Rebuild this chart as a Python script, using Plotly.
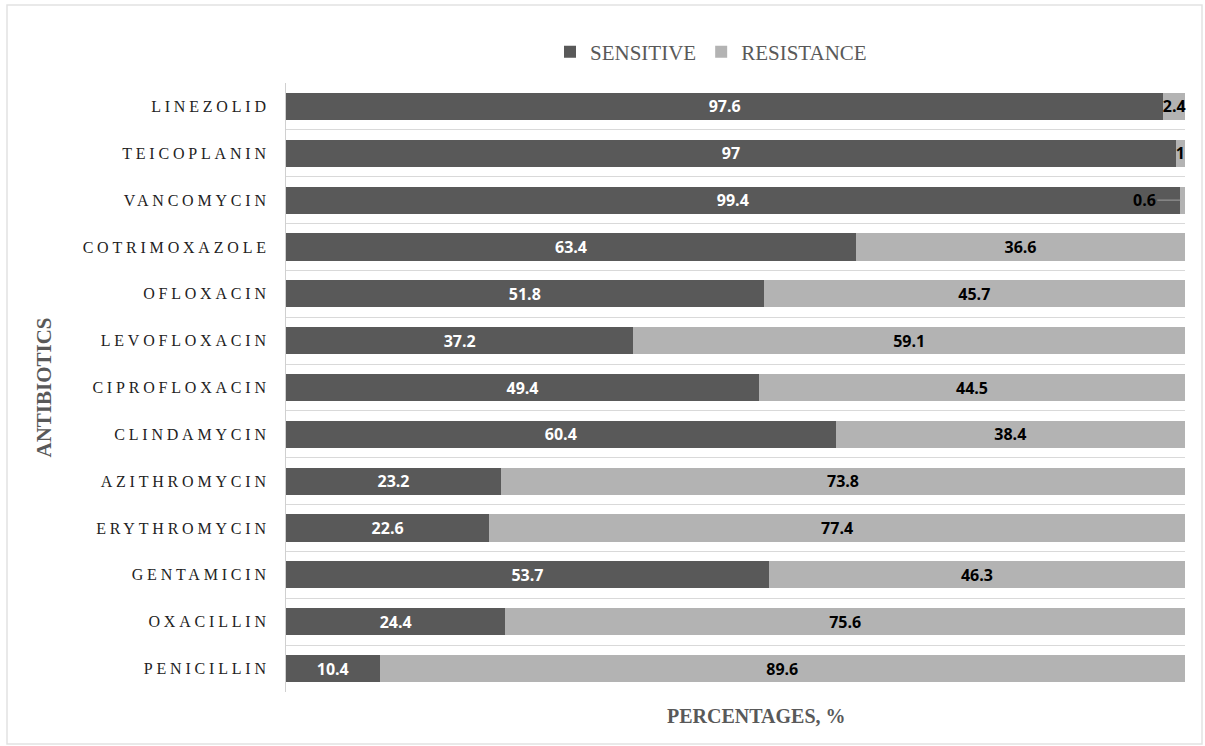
import plotly.graph_objects as go

antibiotics = ["PENICILLIN", "OXACILLIN", "GENTAMICIN", "ERYTHROMYCIN", "AZITHROMYCIN",
               "CLINDAMYCIN", "CIPROFLOXACIN", "LEVOFLOXACIN", "OFLOXACIN",
               "COTRIMOXAZOLE", "VANCOMYCIN", "TEICOPLANIN", "LINEZOLID"]
sensitive = [10.4, 24.4, 53.7, 22.6, 23.2, 60.4, 49.4, 37.2, 51.8, 63.4, 99.4, 97, 97.6]
resistance = [89.6, 75.6, 46.3, 77.4, 73.8, 38.4, 44.5, 59.1, 45.7, 36.6, 0.6, 1, 2.4]

DARK = "#595959"
LIGHT = "#b3b3b3"
LABEL_FONT = "Open Sans, Liberation Sans, sans-serif"
SERIF = "Liberation Serif"

# labels too small for their segment get a leader line
res_text = [("" if v < 1 else str(v)) for v in resistance]

fig = go.Figure()
fig.add_trace(go.Bar(
    y=antibiotics, x=sensitive, orientation="h", name="SENSITIVE",
    marker=dict(color=DARK, line=dict(width=0)),
    text=[str(v) for v in sensitive], textposition="inside", insidetextanchor="middle",
    textangle=0, cliponaxis=False,
    textfont=dict(color="white", size=16, family=LABEL_FONT, weight="bold"),
))
fig.add_trace(go.Bar(
    y=antibiotics, x=resistance, orientation="h", name="RESISTANCE",
    marker=dict(color=LIGHT, line=dict(width=0)),
    text=res_text, textposition="inside", insidetextanchor="middle",
    textangle=0, cliponaxis=False,
    textfont=dict(color="black", size=16, family=LABEL_FONT, weight="bold"),
))

fig.update_layout(
    barmode="stack", barnorm="percent", bargap=0.42,
    width=1205, height=746,
    margin=dict(l=286, r=20, t=83, b=54),
    paper_bgcolor="white", plot_bgcolor="white",
    uniformtext=dict(mode="show", minsize=16),
    showlegend=True,
    legend=dict(orientation="h", x=(711 - 286) / 899, xanchor="center",
                y=1 + (83 - 52) / 609, yanchor="middle",
                font=dict(family=SERIF, size=21, color="#595959"),
                traceorder="normal", itemwidth=30),
    xaxis=dict(range=[0, 100], showticklabels=False, showgrid=False, zeroline=False,
               showline=False, fixedrange=True),
    yaxis=dict(tickson="boundaries", showgrid=True, gridcolor="#d9d9d9", gridwidth=1,
               showline=True, linecolor="#d0d0d0", linewidth=1, ticks="", ticklen=0,
               tickfont=dict(family=SERIF, size=16, color="#222222"),
               ticklabelstandoff=12, zeroline=False),
    font=dict(family=SERIF),
)

# leader-line labels for tiny resistance segments
for name, s, r in zip(antibiotics, sensitive, resistance):
    if r < 1:
        tot = s + r
        fig.add_annotation(x=(s + r / 2) / tot * 100, y=name, text="<b>%s</b>" % r,
                           showarrow=True, arrowhead=0, arrowwidth=1, arrowcolor="#a0a0a0",
                           ax=-38, ay=0, standoff=2,
                           font=dict(color="black", size=16, family=LABEL_FONT))

fig.add_annotation(text="<b>ANTIBIOTICS</b>", xref="paper", yref="paper",
                   x=(43 - 286) / 899, xanchor="center", y=0.5, yanchor="middle",
                   textangle=-90, showarrow=False,
                   font=dict(family=SERIF, size=21, color="#595959"))
fig.add_annotation(text="<b>PERCENTAGES, %</b>", xref="paper", yref="paper",
                   x=(756 - 286) / 899, xanchor="center", y=(692 - 716) / 609, yanchor="middle",
                   showarrow=False,
                   font=dict(family=SERIF, size=20, color="#595959"))

fig.add_shape(type="rect", xref="paper", yref="paper",
              x0=(7 - 286) / 899, x1=(1202 - 286) / 899,
              y0=(692 - 744) / 609, y1=1 + (83 - 5) / 609,
              line=dict(color="#e2e2e2", width=1.5), layer="below")

post = """
function spaceTicks(){
  document.querySelectorAll('.ytick text').forEach(function(t){ t.style.letterSpacing='3.8px'; });
}
spaceTicks();
var gd = document.getElementsByClassName('plotly-graph-div')[0];
if (gd && gd.on) { gd.on('plotly_afterplot', spaceTicks); }
"""
fig.write_html("out.html", post_script=post)
